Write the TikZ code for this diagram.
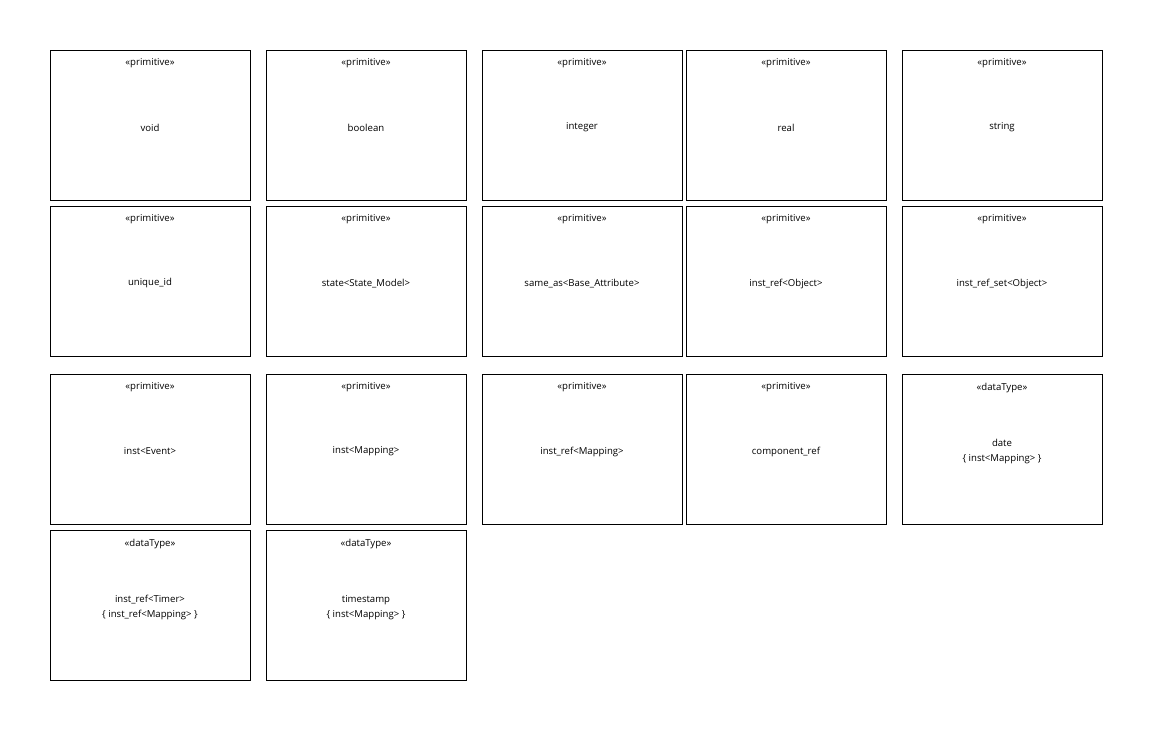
\documentclass[tikz,border=0pt]{standalone}
\usepackage{fontspec}
\setmainfont{Open Sans}
\usetikzlibrary{positioning}

\tikzset{
  typebox/.style={draw,line width=0.9pt,minimum width=200pt,minimum height=150pt,inner sep=0pt},
  stereo/.style={inner sep=0pt}
}

\begin{document}
\begin{tikzpicture}[x=1pt,y=-1pt, every node/.style={font=\fontsize{9.6}{15.5}\selectfont}]
  \useasboundingbox (0,0) rectangle (1152,730);
  \foreach \x/\y/\n/\st/\title in {
    150/125/void/primitive/void,
    366/125/boolean/primitive/boolean,
    582/125/integer/primitive/integer,
    786/125/real/primitive/real,
    1002/125/string/primitive/string,
    150/281/uid/primitive/unique\_id,
    366/281/state/primitive/state<State\_Model>,
    582/281/sameas/primitive/same\_as<Base\_Attribute>,
    786/281/instref/primitive/inst\_ref<Object>,
    1002/281/instrefset/primitive/inst\_ref\_set<Object>,
    150/449/instevent/primitive/inst<Event>,
    366/449/instmap/primitive/inst<Mapping>,
    582/449/instrefmap/primitive/inst\_ref<Mapping>,
    786/449/compref/primitive/component\_ref,
    1002/449/date/dataType/{date\\\{ inst<Mapping> \}},
    150/605/timer/dataType/{inst\_ref<Timer>\\\{ inst\_ref<Mapping> \}},
    366/605/timestamp/dataType/{timestamp\\\{ inst<Mapping> \}}}{
      \node[typebox] (\n) at (\x,\y) {};
      \node[stereo,below=9pt of \n.north] (\n-st) {«\st»};
      \node[align=center] (\n-name) at ([yshift=-2.5pt]\n.center) {\title};
  }
\end{tikzpicture}
\end{document}
